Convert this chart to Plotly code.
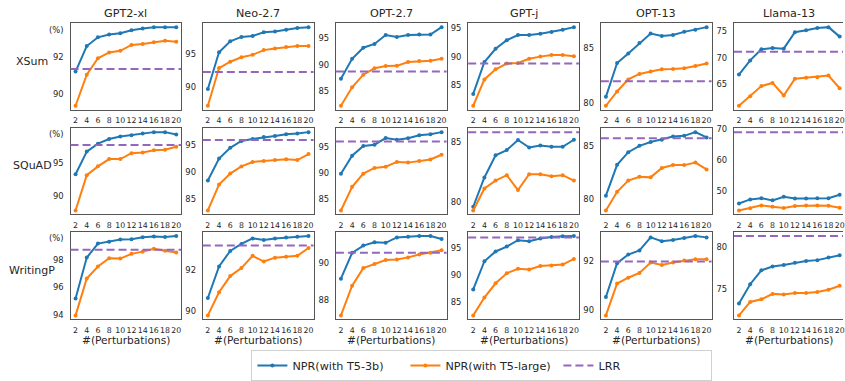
import plotly.graph_objects as go

# ---------------- data ----------------
perturbations = [2, 4, 6, 8, 10, 12, 14, 16, 18, 20]
models = ["GPT2-xl", "Neo-2.7", "OPT-2.7", "GPT-j", "OPT-13", "Llama-13"]
datasets = ["XSum", "SQuAD", "WritingP"]

xsum_npr_t5_3b = [
    [91.23, 92.63, 93.11, 93.27, 93.34, 93.50, 93.60, 93.66, 93.67, 93.66],
    [89.66, 95.33, 97.04, 97.71, 97.85, 98.44, 98.54, 98.83, 99.08, 99.22],
    [87.31, 91.13, 93.24, 93.96, 95.67, 95.31, 95.67, 95.78, 95.78, 97.18],
    [83.45, 89.05, 91.38, 92.88, 93.78, 93.78, 94.00, 94.33, 94.72, 95.17],
    [80.52, 83.61, 84.48, 85.43, 86.30, 86.08, 86.16, 86.45, 86.65, 86.88],
    [66.80, 69.49, 71.59, 71.82, 71.70, 74.82, 75.18, 75.59, 75.77, 73.98],
]
xsum_npr_t5_large = [
    [89.35, 91.06, 91.96, 92.28, 92.37, 92.69, 92.75, 92.84, 92.92, 92.87],
    [87.08, 92.90, 93.88, 94.56, 94.94, 95.67, 95.92, 96.16, 96.31, 96.31],
    [82.15, 85.67, 88.09, 89.31, 89.73, 89.78, 90.51, 90.69, 90.76, 91.13],
    [81.38, 86.00, 87.78, 88.78, 88.88, 89.62, 90.00, 90.28, 90.28, 90.08],
    [79.71, 81.01, 82.11, 82.61, 82.83, 83.04, 83.07, 83.13, 83.33, 83.56],
    [60.92, 62.72, 64.64, 65.23, 62.85, 66.02, 66.20, 66.31, 66.62, 64.23],
]
xsum_lrr = [91.37, 92.28, 88.69, 88.78, 81.94, 71.10]

squad_npr_t5_3b = [
    [93.24, 96.67, 97.86, 98.57, 98.96, 99.14, 99.39, 99.61, 99.61, 99.24],
    [88.45, 92.47, 94.43, 95.69, 96.03, 96.38, 96.60, 96.90, 97.02, 97.29],
    [89.90, 93.31, 95.18, 95.41, 96.67, 96.36, 96.62, 97.21, 97.39, 97.80],
    [79.60, 82.05, 83.90, 84.34, 85.18, 84.55, 84.73, 84.61, 84.61, 85.20],
    [80.29, 83.21, 84.40, 85.00, 85.36, 85.59, 85.89, 85.95, 86.30, 85.80],
    [45.91, 47.23, 47.62, 46.92, 48.05, 47.53, 47.53, 47.62, 47.62, 48.75],
]
squad_npr_t5_large = [
    [87.76, 93.10, 94.43, 95.53, 95.53, 96.43, 96.53, 96.86, 96.96, 97.39],
    [82.98, 87.71, 89.71, 91.03, 91.84, 92.02, 92.19, 92.33, 92.19, 93.28],
    [82.90, 87.39, 89.90, 90.98, 91.23, 92.13, 92.00, 92.31, 92.59, 93.49],
    [79.29, 81.13, 81.79, 82.24, 81.00, 82.32, 82.32, 82.16, 82.24, 81.79],
    [78.89, 80.65, 81.72, 82.08, 82.02, 82.91, 83.18, 83.18, 83.42, 82.77],
    [43.66, 44.39, 45.30, 44.88, 44.48, 45.09, 45.30, 45.30, 45.18, 44.57],
]
squad_lrr = [97.67, 95.86, 96.00, 85.84, 85.71, 68.96]

writingp_npr_t5_3b = [
    [95.19, 98.14, 99.15, 99.29, 99.45, 99.47, 99.61, 99.66, 99.63, 99.70],
    [90.62, 92.16, 92.92, 93.26, 93.53, 93.45, 93.53, 93.57, 93.61, 93.65],
    [89.15, 90.57, 90.97, 91.15, 91.12, 91.42, 91.45, 91.50, 91.50, 91.33],
    [87.41, 92.61, 94.41, 95.31, 96.49, 96.31, 96.80, 97.10, 97.21, 97.28],
    [90.53, 91.93, 92.29, 92.46, 93.00, 92.84, 92.89, 92.97, 93.06, 93.00],
    [73.26, 75.57, 77.23, 77.69, 77.88, 78.15, 78.34, 78.45, 78.77, 79.03],
]
writingp_npr_t5_large = [
    [93.98, 96.64, 97.50, 98.09, 98.07, 98.41, 98.57, 98.78, 98.64, 98.50],
    [89.77, 90.90, 91.69, 92.08, 92.68, 92.40, 92.59, 92.63, 92.68, 93.06],
    [87.13, 88.76, 89.73, 89.96, 90.18, 90.21, 90.32, 90.48, 90.58, 90.71],
    [82.61, 85.90, 88.54, 90.39, 91.23, 91.10, 91.71, 91.82, 92.00, 93.03],
    [89.77, 91.09, 91.33, 91.53, 91.96, 91.86, 91.96, 92.04, 92.09, 92.09],
    [71.85, 73.46, 73.77, 74.42, 74.35, 74.53, 74.53, 74.65, 74.92, 75.39],
]
writingp_lrr = [98.71, 93.18, 90.58, 96.97, 92.00, 81.34]

yticks_xsum = [[90, 92], [90, 95], [85, 90, 95], [85, 90, 95], [80, 85], [65, 70, 75]]
yticks_squad = [[90, 95], [85, 90, 95], [85, 90, 95], [80, 85], [80, 85], [50, 60, 70]]
yticks_writingp = [[94, 96, 98], [90, 92], [88, 90], [85, 90, 95], [90, 92], [75, 80]]

series_3b = [xsum_npr_t5_3b, squad_npr_t5_3b, writingp_npr_t5_3b]
series_large = [xsum_npr_t5_large, squad_npr_t5_large, writingp_npr_t5_large]
series_lrr = [xsum_lrr, squad_lrr, writingp_lrr]
yticks_all = [yticks_xsum, yticks_squad, yticks_writingp]

# ---------------- style / layout ----------------
W, H = 845, 381
FONT = "DejaVu Sans"
TXT = "#262626"
FRAME = "#555555"
C_BLUE, C_ORANGE, C_PURPLE = "#1f77b4", "#ff7f0e", "#9467bd"
col_left = [70.7, 203.3, 336.7, 469.3, 602.3, 735.7]
plot_w = 111.0
row_top = [20.0, 129.3, 237.3]
plot_h = [90.0, 89.7, 91.0]
px_per_unit = plot_w / 19.8
XTICK_SIZE = 7.8
YTICK_SIZE = 8.4

fig = go.Figure()
shapes = []
annotations = []

for r in range(3):
    for c in range(6):
        k = r * 6 + c + 1
        xn = "x" if k == 1 else f"x{k}"
        yn = "y" if k == 1 else f"y{k}"
        xl = "xaxis" if k == 1 else f"xaxis{k}"
        yl = "yaxis" if k == 1 else f"yaxis{k}"
        showleg = (k == 1)
        a = series_3b[r][c]
        b = series_large[r][c]
        lrr = series_lrr[r][c]
        fig.add_trace(go.Scatter(
            x=perturbations, y=a, mode="lines+markers", name="NPR(with T5-3b)",
            line=dict(color=C_BLUE, width=2), marker=dict(color=C_BLUE, size=4),
            xaxis=xn, yaxis=yn, showlegend=showleg, legendrank=1, cliponaxis=False))
        fig.add_trace(go.Scatter(
            x=perturbations, y=b, mode="lines+markers", name="NPR(with T5-large)",
            line=dict(color=C_ORANGE, width=2), marker=dict(color=C_ORANGE, size=4),
            xaxis=xn, yaxis=yn, showlegend=showleg, legendrank=2, cliponaxis=False))
        shapes.append(dict(type="line", xref=f"{xn} domain", x0=0, x1=1,
                           yref=yn, y0=lrr, y1=lrr, layer="above",
                           line=dict(color=C_PURPLE, width=2, dash="8px,4px")))
        lo = min(a + b + [lrr]); hi = max(a + b + [lrr])
        pad = 0.05 * (hi - lo)
        x0p = col_left[c]
        x1p = min(x0p + plot_w, W)
        xr1 = 1.1 + (x1p - x0p) / px_per_unit
        top = row_top[r]; bot = top + plot_h[r]
        fig.update_layout({
            xl: dict(domain=[x0p / W, x1p / W], anchor=yn, range=[1.1, xr1],
                     tickvals=perturbations, tickangle=0, showgrid=False, zeroline=False,
                     showline=True, mirror=True, linecolor=FRAME, linewidth=1.3,
                     ticks="", ticklabelstandoff=3, ticklabeloverflow="allow",
                     tickfont=dict(family=FONT, size=XTICK_SIZE, color=TXT)),
            yl: dict(domain=[1 - bot / H, 1 - top / H], anchor=xn,
                     range=[lo - pad, hi + pad], tickvals=yticks_all[r][c],
                     showgrid=False, zeroline=False, showline=True,
                     mirror=(c != 5), linecolor=FRAME, linewidth=1.3,
                     ticks="", ticklabelstandoff=4, ticklabeloverflow="allow",
                     tickfont=dict(family=FONT, size=YTICK_SIZE, color=TXT)),
        })

# legend entry for LRR
fig.add_trace(go.Scatter(x=[None], y=[None], mode="lines", name="LRR",
                         line=dict(color=C_PURPLE, width=2, dash="8px,4px"),
                         showlegend=True, legendrank=3))

# titles
for c, m in enumerate(models):
    annotations.append(dict(text=m, x=(col_left[c] + plot_w / 2) / W, y=1 - 10 / H,
                            xref="paper", yref="paper", showarrow=False,
                            xanchor="center", yanchor="middle",
                            font=dict(family=FONT, size=11.2, color=TXT)))
    annotations.append(dict(text="#(Perturbations)", x=(col_left[c] + plot_w / 2) / W,
                            y=1 - 350 / H, xref="paper", yref="paper", showarrow=False,
                            xanchor="center", yanchor="middle",
                            font=dict(family=FONT, size=10.6, color=TXT)))
row_label_y = [60, 168, 277]
pct_y = [26.7, 135, 244]
for r, d in enumerate(datasets):
    annotations.append(dict(text=d, x=32.5 / W, y=1 - row_label_y[r] / H,
                            xref="paper", yref="paper", showarrow=False,
                            xanchor="center", yanchor="middle",
                            font=dict(family=FONT, size=11, color=TXT)))
    annotations.append(dict(text="(%)", x=66.5 / W, y=1 - pct_y[r] / H,
                            xref="paper", yref="paper", showarrow=False,
                            xanchor="right", yanchor="middle",
                            font=dict(family=FONT, size=YTICK_SIZE, color=TXT)))

fig.update_layout(
    width=W, height=H, margin=dict(l=0, r=0, t=0, b=0),
    paper_bgcolor="white", plot_bgcolor="white",
    shapes=shapes, annotations=annotations,
    font=dict(family=FONT, color=TXT),
    legend=dict(orientation="h", x=252 / W, xanchor="left",
                y=1 - 360.5 / H, yanchor="top",
                bordercolor="#d0d0d0", borderwidth=1, bgcolor="white",
                font=dict(family=FONT, size=11.2, color=TXT),
                itemwidth=30, tracegroupgap=0, entrywidth=108),
)

fig.write_html("out.html", config={"displayModeBar": False},
               post_script="document.body.style.margin='0';document.body.style.overflow='hidden';")
